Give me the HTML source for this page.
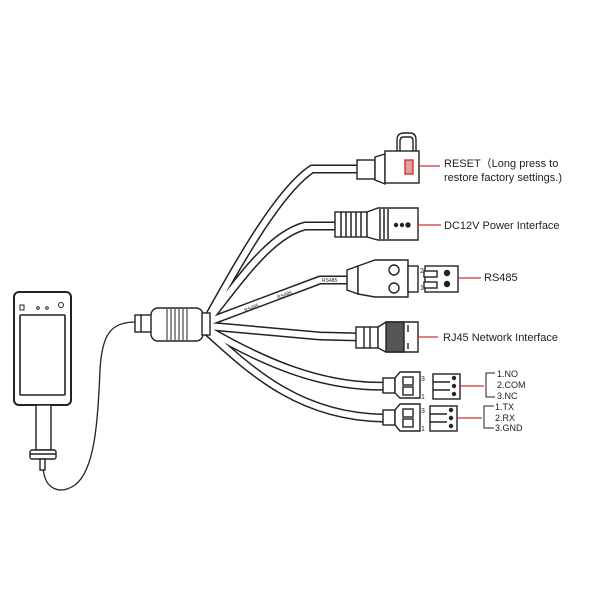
<!DOCTYPE html>
<html><head><style>
html,body{margin:0;padding:0;background:#fff;}
svg{display:block;}
text{font-family:"Liberation Sans",sans-serif;fill:#222;}
</style></head><body>
<svg width="600" height="600" viewBox="0 0 600 600" xmlns="http://www.w3.org/2000/svg">
<g fill="none" stroke-linecap="round" stroke-linejoin="round">
<g stroke="#222" stroke-width="9">
<path d="M208,318 C240,260 280,190 312,169 L360,169"/>
<path d="M208,320 C240,280 270,235 305,226 L336,226"/>
<path d="M208,322 L320,280 L350,280"/>
<path d="M208,326 L320,336 L360,337"/>
<path d="M208,330 C260,360 320,388 386,386"/>
<path d="M208,332 C250,370 300,418 386,418"/>
</g>
<g stroke="#fff" stroke-width="6">
<path d="M208,318 C240,260 280,190 312,169 L360,169"/>
<path d="M208,320 C240,280 270,235 305,226 L336,226"/>
<path d="M208,322 L320,280 L350,280"/>
<path d="M208,326 L320,336 L360,337"/>
<path d="M208,330 C260,360 320,388 386,386"/>
<path d="M208,332 C250,370 300,418 386,418"/>
</g>
<g font-size="5" fill="#555" stroke="none" font-family="Liberation Serif">
<text x="0" y="0" transform="translate(245,312) rotate(-21)">RS485</text>
<text x="0" y="0" transform="translate(278,299) rotate(-21)">RS485</text>
<text x="0" y="0" transform="translate(322,282)">RS485</text>
</g>
<path d="M43,468 C45,490 60,495 75,485 C95,470 98,420 100,370 C102,335 110,322 136,322" stroke="#222" stroke-width="1.3"/>
</g>
<g stroke="#222" stroke-width="1.4" fill="#fff">
<rect x="14" y="292" width="57" height="113" rx="5" stroke-width="2"/>
<rect x="20" y="315" width="45" height="80" rx="1" stroke-width="1.6"/>
<rect x="20" y="305" width="4" height="5" stroke-width="1"/>
<circle cx="38" cy="308" r="1.3" stroke-width="1"/>
<circle cx="47" cy="308" r="1.3" stroke-width="1"/>
<circle cx="61" cy="305" r="2.5" stroke-width="1"/>
<rect x="36" y="405" width="15" height="45"/>
<rect x="30" y="450" width="26" height="9" rx="2"/>
<line x1="30" y1="454" x2="56" y2="454"/>
<rect x="40" y="459" width="5" height="11"/>
<rect x="135" y="315" width="17" height="17"/>
<line x1="141" y1="315" x2="141" y2="332"/>
<rect x="151" y="308" width="52" height="33" rx="7"/>
<g stroke-width="1">
<line x1="167" y1="309" x2="167" y2="340"/><line x1="171" y1="309" x2="171" y2="340"/>
<line x1="175" y1="309" x2="175" y2="340"/><line x1="179" y1="309" x2="179" y2="340"/>
<line x1="183" y1="309" x2="183" y2="340"/><line x1="187" y1="309" x2="187" y2="340"/>
</g>
<rect x="202" y="313" width="8" height="22"/>
<rect x="357" y="160" width="18" height="19"/>
<path d="M375,157 L385,154 L385,184 L375,180 Z"/>
<path d="M397,151 L397,140 Q397,133 404,133 L410,133 Q416,133 416,140 L416,151"/>
<path d="M400,151 L400,141 Q400,137 404,137 L410,137 Q413,137 413,141 L413,151"/>
<rect x="385" y="151" width="34" height="32"/>
<rect x="405" y="160" width="8" height="14" fill="#e4a0a0" stroke="#c33"/>
<rect x="335" y="212" width="32" height="25"/>
<path d="M367,212 L378,208 L418,208 L418,240 L378,240 L367,237 Z"/>
<g stroke-width="1.5"><line x1="341" y1="212" x2="341" y2="237"/><line x1="346" y1="212" x2="346" y2="237"/><line x1="351" y1="212" x2="351" y2="237"/><line x1="356" y1="212" x2="356" y2="237"/><line x1="361" y1="212" x2="361" y2="237"/>
<line x1="380" y1="209" x2="380" y2="239"/><line x1="384" y1="209" x2="384" y2="239"/><line x1="388" y1="209" x2="388" y2="239"/></g>
<circle cx="396" cy="225" r="1.5" fill="#222"/><circle cx="402" cy="225" r="1.5" fill="#222"/><circle cx="408" cy="225" r="2" fill="#222"/>
<path d="M347,270 L358,266 L358,294 L347,290 Z"/>
<path d="M358,266 L375,260 L408,260 L408,297 L375,297 L358,294 Z"/>
<rect x="408" y="266" width="10" height="26"/>
<circle cx="394" cy="270" r="5"/><circle cx="394" cy="288" r="5"/>
<rect x="425" y="266" width="33" height="26"/>
<rect x="424" y="271" width="13" height="6"/><rect x="424" y="282" width="13" height="6"/>
<circle cx="447" cy="273" r="2.5" fill="#222"/><circle cx="447" cy="284" r="2.5" fill="#222"/>
<rect x="356" y="327" width="22" height="21"/>
<line x1="364" y1="327" x2="364" y2="348"/><line x1="370" y1="327" x2="370" y2="348"/>
<path d="M378,327 L386,322 L418,322 L418,352 L386,352 L378,348 Z"/>
<rect x="386" y="322" width="18" height="30" fill="#555"/>
<line x1="408" y1="325" x2="408" y2="332"/><line x1="408" y1="343" x2="408" y2="349"/>
<rect x="383" y="378" width="12" height="15"/>
<path d="M395,378 L400,372 L420,372 L420,398 L400,398 L395,393 Z"/>
<rect x="403" y="377" width="10" height="8"/><rect x="403" y="387" width="10" height="8"/>
<rect x="433" y="374" width="27" height="25"/>
<line x1="433" y1="382" x2="450" y2="382"/><line x1="433" y1="390" x2="450" y2="390"/>
<circle cx="454" cy="378" r="1.5" fill="#222"/><circle cx="454" cy="386" r="1.5" fill="#222"/><circle cx="454" cy="394" r="1.5" fill="#222"/>
<rect x="383" y="410" width="12" height="15"/>
<path d="M395,410 L400,404 L420,404 L420,431 L400,431 L395,425 Z"/>
<rect x="403" y="409" width="10" height="8"/><rect x="403" y="419" width="10" height="8"/>
<rect x="430" y="406" width="27" height="25"/>
<line x1="430" y1="414" x2="447" y2="414"/><line x1="430" y1="422" x2="447" y2="422"/>
<circle cx="451" cy="410" r="1.5" fill="#222"/><circle cx="451" cy="418" r="1.5" fill="#222"/><circle cx="451" cy="426" r="1.5" fill="#222"/>
</g>
<g stroke="#c33" stroke-width="1.3">
<line x1="419" y1="166" x2="440" y2="166"/>
<line x1="418" y1="225" x2="441" y2="225"/>
<line x1="458" y1="278" x2="481" y2="278"/>
<line x1="418" y1="337" x2="438" y2="337"/>
<line x1="460" y1="386" x2="484" y2="386"/>
<line x1="457" y1="418" x2="482" y2="418"/>
</g>
<g stroke="#222" stroke-width="1" fill="none">
<path d="M495,373 L486,373 L486,397 L495,397"/>
<path d="M494,406 L484,406 L484,428 L494,428"/>
</g>
<g font-size="11">
<text x="444" y="167">RESET（Long press to</text>
<text x="444" y="181">restore factory settings.)</text>
<text x="444" y="229">DC12V Power Interface</text>
<text x="484" y="281">RS485</text>
<text x="443" y="341">RJ45 Network Interface</text>
</g>
<g font-size="9">
<text x="497" y="377">1.NO</text><text x="497" y="388">2.COM</text><text x="497" y="399">3.NC</text>
<text x="495" y="410">1.TX</text><text x="495" y="421">2.RX</text><text x="495" y="431">3.GND</text>
<text x="420" y="273" font-size="7">2</text><text x="420" y="290" font-size="7">1</text>
<text x="421" y="381" font-size="7">3</text><text x="421" y="399" font-size="7">1</text>
<text x="421" y="413" font-size="7">3</text><text x="421" y="431" font-size="7">1</text>
</g>
</svg>
</body></html>
